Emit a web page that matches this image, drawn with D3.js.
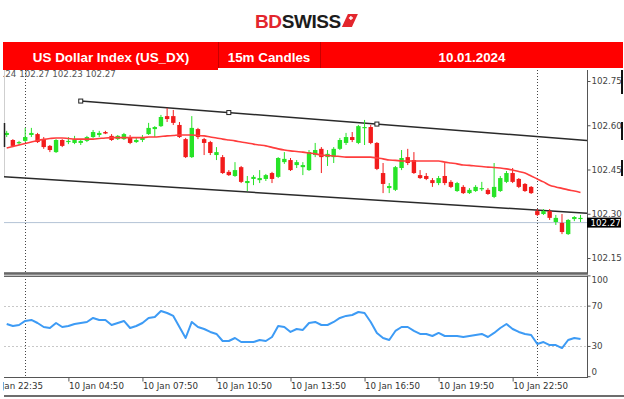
<!DOCTYPE html>
<html>
<head>
<meta charset="utf-8">
<script src="https://cdn.jsdelivr.net/npm/d3@7"></script>
<style>
  html, body { margin: 0; padding: 0; background: #fff; }
  svg { display: block; }
</style>
</head>
<body>
<svg id="chart" width="624" height="399"></svg>
<script>
// 15m candles, US_DX
const opens = [102.567,102.550,102.540,102.547,102.567,102.570,102.553,102.530,102.509,102.550,
  102.543,102.540,102.540,102.547,102.560,102.567,102.577,102.564,102.553,102.553,
  102.560,102.543,102.550,102.570,102.587,102.597,102.631,102.631,102.601,102.553,
  102.492,102.587,102.553,102.543,102.499,102.492,102.442,102.428,102.458,102.404,
  102.418,102.414,102.418,102.438,102.425,102.475,102.482,102.465,102.458,102.448,
  102.499,102.520,102.492,102.492,102.520,102.540,102.560,102.540,102.591,102.594,
  102.540,102.438,102.387,102.381,102.455,102.492,102.482,102.431,102.428,102.414,
  102.404,102.428,102.408,102.377,102.391,102.370,102.377,102.384,102.381,102.357,
  102.377,102.408,102.438,102.418,102.401,102.391,102.309,102.299,102.309,102.272,
  102.269,102.231,102.282,102.282];
const highs = [102.581,102.553,102.547,102.591,102.591,102.574,102.560,102.533,102.553,102.553,
  102.560,102.564,102.553,102.564,102.584,102.581,102.581,102.570,102.567,102.574,
  102.567,102.557,102.567,102.608,102.597,102.635,102.658,102.652,102.611,102.557,
  102.631,102.591,102.557,102.547,102.526,102.499,102.448,102.475,102.462,102.428,
  102.431,102.448,102.435,102.442,102.492,102.509,102.489,102.482,102.475,102.516,
  102.540,102.526,102.516,102.526,102.557,102.574,102.577,102.601,102.618,102.601,
  102.543,102.472,102.404,102.462,102.516,102.520,102.509,102.448,102.438,102.421,
  102.428,102.472,102.414,102.408,102.397,102.387,102.397,102.408,102.387,102.472,
  102.428,102.445,102.455,102.421,102.404,102.394,102.316,102.316,102.316,102.296,
  102.299,102.282,102.292,102.296];
const lows = [102.560,102.526,102.533,102.543,102.560,102.540,102.520,102.509,102.506,102.526,
  102.536,102.536,102.533,102.543,102.557,102.560,102.570,102.547,102.550,102.550,
  102.536,102.540,102.543,102.567,102.560,102.594,102.611,102.601,102.557,102.489,
  102.489,102.553,102.499,102.499,102.482,102.435,102.428,102.425,102.404,102.377,
  102.397,102.404,102.411,102.404,102.421,102.469,102.445,102.455,102.431,102.445,
  102.492,102.438,102.462,102.472,102.516,102.533,102.543,102.536,102.533,102.536,
  102.448,102.370,102.370,102.377,102.448,102.465,102.435,102.418,102.414,102.391,
  102.397,102.397,102.387,102.374,102.367,102.367,102.374,102.377,102.364,102.353,
  102.374,102.404,102.404,102.387,102.374,102.367,102.292,102.296,102.279,102.262,
  102.231,102.228,102.275,102.272];
const closes = [102.574,102.530,102.543,102.560,102.574,102.543,102.526,102.516,102.550,102.530,
  102.547,102.553,102.547,102.560,102.577,102.574,102.572,102.550,102.564,102.570,
  102.540,102.550,102.560,102.591,102.594,102.628,102.621,102.608,102.560,102.492,
  102.591,102.560,102.540,102.506,102.509,102.438,102.431,102.448,102.408,102.411,
  102.425,102.421,102.431,102.418,102.489,102.486,102.448,102.475,102.465,102.509,
  102.516,102.492,102.503,102.520,102.550,102.560,102.550,102.597,102.594,102.540,
  102.452,102.401,102.394,102.458,102.489,102.472,102.438,102.421,102.418,102.404,
  102.421,102.404,102.391,102.404,102.370,102.381,102.391,102.387,102.367,102.391,
  102.421,102.438,102.408,102.391,102.377,102.370,102.296,102.309,102.286,102.286,
  102.238,102.279,102.289,102.286];

// moving average (red line)
const maValues = [102.523,102.528,102.533,102.538,102.543,102.548,102.552,102.555,102.557,102.557,
  102.555,102.553,102.553,102.553,102.553,102.555,102.557,102.558,102.558,102.558,
  102.558,102.558,102.558,102.560,102.560,102.562,102.564,102.565,102.567,102.567,
  102.567,102.565,102.564,102.560,102.557,102.553,102.550,102.547,102.543,102.540,
  102.536,102.533,102.530,102.525,102.520,102.516,102.513,102.511,102.509,102.506,
  102.503,102.499,102.497,102.496,102.494,102.492,102.492,102.492,102.492,102.492,
  102.489,102.486,102.482,102.481,102.479,102.479,102.479,102.479,102.479,102.479,
  102.479,102.475,102.472,102.469,102.465,102.464,102.462,102.460,102.458,102.457,
  102.455,102.452,102.448,102.443,102.438,102.428,102.418,102.408,102.397,102.391,
  102.386,102.381,102.377,102.372];

// RSI (blue line, lower panel)
const rsiValues = [51.8,49.8,50.8,54.8,55.8,52.8,48.8,47.8,52.8,48.8,
  49.8,51.8,52.8,53.8,57.8,55.8,55.8,50.8,52.8,54.8,
  47.8,49.8,52.8,57.8,58.8,64.7,62.7,59.8,48.8,37.9,
  53.8,48.8,46.8,43.9,41.9,34.9,34.9,37.9,33.9,33.9,
  33.9,35.9,34.9,38.9,49.8,48.8,43.9,46.8,45.9,52.8,
  53.8,50.8,50.8,53.8,57.8,59.8,60.7,63.7,62.7,53.8,
  42.9,37.9,35.9,44.9,48.8,48.8,44.9,41.9,41.9,39.9,
  42.9,39.9,39.9,39.9,38.9,39.9,40.9,41.9,38.9,42.9,
  47.8,51.8,46.8,43.9,41.9,40.9,31.9,33.9,30.9,30.9,
  27.9,35.9,37.9,36.9];

// drawn objects: [bar, price]
const upperTrend = [[12, 102.682], [60, 102.604]];
const lowerTrend = [[0, 102.425], [86, 102.312]];
const separatorBars = [3, 86];
const bidPrice = 102.27;

// axis labels
const priceTicks = [102.75, 102.60, 102.45, 102.30, 102.15];
const rsiTicks = [100, 70, 30, 0];
const rsiLevels = [70, 30];
const timeTickBars = [10, 22, 34, 46, 58, 70, 82];
const timeLabels = ["10 Jan 04:50", "10 Jan 07:50", "10 Jan 10:50", "10 Jan 13:50",
  "10 Jan 16:50", "10 Jan 19:50", "10 Jan 22:50"];
const firstTimeLabel = "9 Jan 22:35";
const ohlcInfo = ["102.24", "102.27", "102.23", "102.27"];
const headerCells = ["US Dollar Index (US_DX)", "15m Candles", "10.01.2024"];

const axisFont = "'DejaVu Sans', Verdana, sans-serif";
const bull = "#27e327", bear = "#f21c1c";

const plotLeft = 4, plotRight = 587;
const mainTop = 70, mainBottom = 273, rsiTop = 276, rsiBottom = 377;

const x = d3.scaleLinear().domain([0, 93]).range([6.7, 580.5]);
const y = d3.scaleLinear().domain([102.15, 102.75]).range([258, 81]);
const yRsi = d3.scaleLinear().domain([0, 100]).range([376.2, 275.4]);

const svg = d3.select("#chart");
svg.append("rect").attr("width", 624).attr("height", 399).attr("fill", "#fff");

const defs = svg.append("defs");
defs.append("clipPath").attr("id", "clip-main").append("rect")
  .attr("x", plotLeft).attr("y", mainTop).attr("width", plotRight - plotLeft).attr("height", mainBottom - mainTop);
defs.append("clipPath").attr("id", "clip-rsi").append("rect")
  .attr("x", plotLeft).attr("y", rsiTop).attr("width", plotRight - plotLeft).attr("height", rsiBottom - rsiTop);
defs.append("clipPath").attr("id", "clip-left").append("rect")
  .attr("x", 3).attr("y", 0).attr("width", 621).attr("height", 399);

// ohlc info text, cut at the left edge
svg.append("text")
  .attr("clip-path", "url(#clip-left)")
  .attr("x", -14).attr("y", 76.5)
  .attr("font-family", axisFont).attr("font-size", 8.7).attr("fill", "#555")
  .text(ohlcInfo.join(" "));

// ---- main panel
const main = svg.append("g").attr("clip-path", "url(#clip-main)");

main.selectAll(".sep").data(separatorBars).enter().append("line")
  .attr("x1", d => Math.round(x(d)) + 0.5).attr("x2", d => Math.round(x(d)) + 0.5)
  .attr("y1", mainTop).attr("y2", mainBottom)
  .attr("stroke", "#444").attr("stroke-dasharray", "1,2");

main.append("line")
  .attr("x1", plotLeft).attr("x2", plotRight)
  .attr("y1", y(bidPrice)).attr("y2", y(bidPrice))
  .attr("stroke", "#b3c3d6");

function extend(a, b, from, to) {
  const slope = (b[1] - a[1]) / (b[0] - a[0]);
  return [[from, a[1] + slope * (from - a[0])], [to, a[1] + slope * (to - a[0])]];
}
const trendLine = d3.line().x(d => x(d[0])).y(d => y(d[1]));
main.append("path")
  .attr("d", trendLine(extend(upperTrend[0], upperTrend[1], upperTrend[0][0], x.invert(plotRight))))
  .attr("fill", "none").attr("stroke", "#2a2a2a").attr("stroke-width", 1.5);
main.append("path")
  .attr("d", trendLine(extend(lowerTrend[0], lowerTrend[1], x.invert(plotLeft), x.invert(plotRight))))
  .attr("fill", "none").attr("stroke", "#2a2a2a").attr("stroke-width", 1.5);

const candles = d3.range(opens.length).map(i => ({ i, o: opens[i], h: highs[i], l: lows[i], c: closes[i] }));
const cg = main.selectAll(".candle").data(candles).enter().append("g");
cg.append("line")
  .attr("x1", d => x(d.i)).attr("x2", d => x(d.i))
  .attr("y1", d => y(d.h)).attr("y2", d => y(d.l))
  .attr("stroke", d => d.c >= d.o ? bull : bear).attr("stroke-width", 1);
cg.append("rect")
  .attr("x", d => x(d.i) - 2.2).attr("width", 4.4)
  .attr("y", d => y(Math.max(d.o, d.c)))
  .attr("height", d => Math.max(1.2, Math.abs(y(d.o) - y(d.c))))
  .attr("fill", d => d.c >= d.o ? bull : bear);

main.append("path")
  .datum(maValues)
  .attr("d", d3.line().x((d, i) => x(i)).y(d => y(d)).curve(d3.curveMonotoneX))
  .attr("fill", "none").attr("stroke", "#ff3d3d").attr("stroke-width", 1.6);

// selected trendline handles: both anchors and the midpoint
const handles = [upperTrend[0], [(upperTrend[0][0] + upperTrend[1][0]) / 2, (upperTrend[0][1] + upperTrend[1][1]) / 2], upperTrend[1]];
main.selectAll(".handle").data(handles).enter().append("rect")
  .attr("x", d => x(d[0]) - 2).attr("y", d => y(d[1]) - 2)
  .attr("width", 4).attr("height", 4)
  .attr("fill", "#fff").attr("stroke", "#222").attr("stroke-width", 1);

// panel frame
svg.append("line").attr("x1", 4.5).attr("x2", 4.5).attr("y1", mainTop).attr("y2", 176).attr("stroke", "#cfcfcf");
svg.append("line").attr("x1", 4.5).attr("x2", 4.5).attr("y1", 123).attr("y2", 147).attr("stroke", "#222").attr("stroke-width", 1.5);
svg.append("rect").attr("x", plotLeft).attr("y", mainBottom - 0.5).attr("width", plotRight - plotLeft + 1).attr("height", 3)
  .attr("fill", "#8a8a8a");
svg.append("line").attr("x1", plotLeft).attr("x2", plotRight + 1).attr("y1", mainBottom).attr("y2", mainBottom).attr("stroke", "#444");
svg.append("line").attr("x1", plotRight + 0.5).attr("x2", plotRight + 0.5).attr("y1", mainTop).attr("y2", mainBottom).attr("stroke", "#555");

// price axis
const yAxis = d3.axisRight(y).tickValues(priceTicks).tickSize(3).tickPadding(1).tickFormat(d3.format(".2f"));
const ga = svg.append("g").attr("transform", `translate(${plotRight + 0.5},0)`).call(yAxis);
ga.select(".domain").remove();
ga.attr("font-family", axisFont).attr("font-size", 8.7);
ga.selectAll("line").attr("stroke", "#555");
ga.selectAll("text").attr("fill", "#444");

svg.append("rect").attr("x", plotRight).attr("y", y(bidPrice) - 5).attr("width", 34).attr("height", 10).attr("fill", "#000");
svg.append("text").attr("x", plotRight + 3.5).attr("y", y(bidPrice) + 3.2)
  .attr("font-family", axisFont).attr("font-size", 8.7).attr("fill", "#fff")
  .text(d3.format(".2f")(bidPrice));

// right edge frame bits
[[70, 94], [122, 140], [160, 176]].forEach(s => {
  svg.append("line").attr("x1", 622).attr("x2", 622).attr("y1", s[0]).attr("y2", s[1]).attr("stroke", "#111").attr("stroke-width", 2);
});

// ---- RSI panel
const rsiG = svg.append("g").attr("clip-path", "url(#clip-rsi)");
rsiG.selectAll(".lvl").data(rsiLevels).enter().append("line")
  .attr("x1", plotLeft).attr("x2", plotRight)
  .attr("y1", d => Math.round(yRsi(d)) + 0.5).attr("y2", d => Math.round(yRsi(d)) + 0.5)
  .attr("stroke", "#c8c8c8").attr("stroke-dasharray", "2,2");
rsiG.selectAll(".sep").data(separatorBars).enter().append("line")
  .attr("x1", d => Math.round(x(d)) + 0.5).attr("x2", d => Math.round(x(d)) + 0.5)
  .attr("y1", rsiTop).attr("y2", rsiBottom)
  .attr("stroke", "#444").attr("stroke-dasharray", "1,2");
rsiG.append("path")
  .datum(rsiValues)
  .attr("d", d3.line().x((d, i) => x(i)).y(d => yRsi(d)))
  .attr("fill", "none").attr("stroke", "#3d9bf5").attr("stroke-width", 2).attr("stroke-linejoin", "round");

svg.append("line").attr("x1", plotLeft).attr("x2", plotRight + 1).attr("y1", rsiTop + 0.5).attr("y2", rsiTop + 0.5).attr("stroke", "#666");
svg.append("line").attr("x1", plotLeft).attr("x2", plotRight + 1).attr("y1", rsiBottom + 0.5).attr("y2", rsiBottom + 0.5).attr("stroke", "#555");
svg.append("line").attr("x1", plotRight + 0.5).attr("x2", plotRight + 0.5).attr("y1", rsiTop).attr("y2", rsiBottom + 1).attr("stroke", "#555");

const rAxis = d3.axisRight(yRsi).tickValues(rsiTicks).tickSize(3).tickPadding(1);
const gr = svg.append("g").attr("transform", `translate(${plotRight + 0.5},0)`).call(rAxis);
gr.select(".domain").remove();
gr.attr("font-family", axisFont).attr("font-size", 8.7);
gr.selectAll("line").attr("stroke", "#555");
gr.selectAll("text").attr("fill", "#444")
  .attr("y", d => d === 100 ? 4.6 : d === 0 ? -4.2 : 0);

// ---- time axis
const xAxis = d3.axisBottom(x).tickValues(timeTickBars).tickSize(4).tickPadding(1)
  .tickFormat((d, i) => timeLabels[i]);
const gx = svg.append("g").attr("transform", `translate(0,${rsiBottom + 0.5})`).call(xAxis);
gx.select(".domain").remove();
gx.attr("font-family", axisFont).attr("font-size", 8.7);
gx.selectAll("line").attr("stroke", "#555");
gx.selectAll("text").attr("fill", "#333").attr("text-anchor", "start").attr("x", 0);

svg.append("text")
  .attr("clip-path", "url(#clip-left)")
  .attr("x", -6.5).attr("y", 388.5)
  .attr("font-family", axisFont).attr("font-size", 8.7).attr("fill", "#333")
  .text(firstTimeLabel);

svg.append("line").attr("x1", plotLeft).attr("x2", 624).attr("y1", 396).attr("y2", 396).attr("stroke", "#6d6d6d").attr("stroke-width", 2);

// ---- header banner
const bannerFont = "'Liberation Sans', Arial, sans-serif";
const cellEdges = [3, 218, 320, 623];
svg.append("rect").attr("x", 3).attr("y", 42).attr("width", 620).attr("height", 26).attr("fill", "#ff0000");
svg.append("rect").attr("x", 3).attr("y", 42).attr("width", cellEdges[1] - 3).attr("height", 28).attr("fill", "#ff0000");
[cellEdges[1], cellEdges[2]].forEach(e => {
  svg.append("line").attr("x1", e + 0.5).attr("x2", e + 0.5).attr("y1", 42).attr("y2", 68).attr("stroke", "#c80000");
});
const cellCenters = [111, 269, 472];
svg.selectAll(".hdr").data(headerCells).enter().append("text")
  .attr("x", (d, i) => cellCenters[i]).attr("y", 62)
  .attr("text-anchor", "middle")
  .attr("font-family", bannerFont).attr("font-weight", "bold").attr("font-size", 13.4)
  .attr("fill", "#fff")
  .text(d => d);

// logo
const logo = svg.append("text").attr("x", 255).attr("y", 27.5)
  .attr("font-family", bannerFont).attr("font-weight", "bold").attr("font-size", 19)
  .attr("letter-spacing", -0.4);
logo.append("tspan").attr("fill", "#e3262d").text("BD");
logo.append("tspan").attr("fill", "#1c1c1c").text("SWISS");
const le = 255 + logo.node().getComputedTextLength();
svg.append("path")
  .attr("d", `M${le + 1},27 L${le + 7},14 L${le + 17},14 L${le + 11},27 Z`)
  .attr("fill", "#e3262d");
svg.append("path")
  .attr("d", `M${le + 8},18 h4 M${le + 10},16 v4`)
  .attr("stroke", "#fff").attr("stroke-width", 1.3);
</script>
</body>
</html>
